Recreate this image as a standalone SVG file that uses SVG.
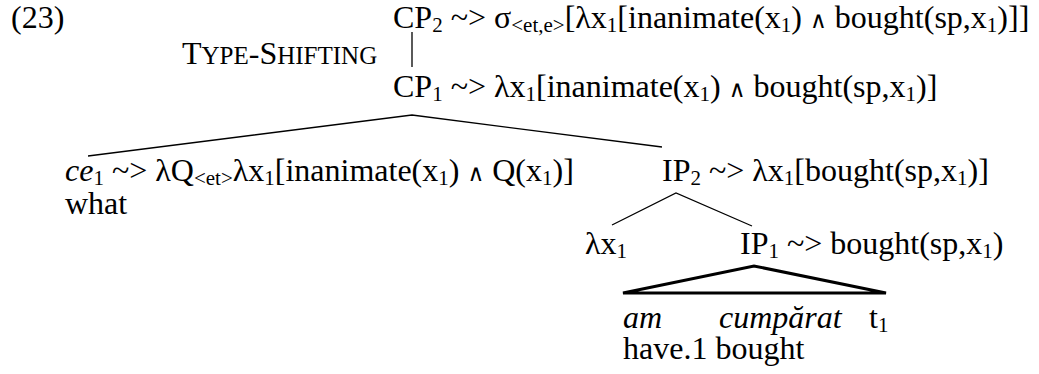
<svg xmlns="http://www.w3.org/2000/svg" width="1039" height="374" viewBox="0 0 1039 374">
<style>
text{font-family:"Liberation Serif","Times New Roman",serif;font-size:32px;fill:#000}
.s{font-size:21px}
.i{font-style:italic}
.sc{font-size:25px}
.w{font-family:"DejaVu Serif",serif;font-size:23px}
.ln{stroke:#000;stroke-width:1.3;fill:none}
.tri{stroke:#000;stroke-width:3;fill:none;stroke-linejoin:miter}
</style>
<rect width="1039" height="374" fill="#fff"/>
<g id="label-23"><text x="11" y="28">(23)</text></g>
<g id="cp2"><text x="393" y="28">CP<tspan class="s" dy="4">2</tspan><tspan dy="-4"> ~&gt; σ</tspan><tspan class="s" dy="4">&lt;et,e&gt;</tspan><tspan dy="-4">[λx</tspan><tspan class="s" dy="4">1</tspan><tspan dy="-4">[inanimate(x</tspan><tspan class="s" dy="4">1</tspan><tspan dy="-4">) </tspan><tspan class="w">∧</tspan><tspan> bought(sp,x</tspan><tspan class="s" dy="4">1</tspan><tspan dy="-4">)]]</tspan></text></g>
<g id="type-shifting"><text x="182" y="64" font-size="31">T<tspan class="sc">YPE</tspan>-S<tspan class="sc">HIFTING</tspan></text></g>
<g id="cp1"><text x="393" y="97">CP<tspan class="s" dy="4">1</tspan><tspan dy="-4"> ~&gt; λx</tspan><tspan class="s" dy="4">1</tspan><tspan dy="-4">[inanimate(x</tspan><tspan class="s" dy="4">1</tspan><tspan dy="-4">) </tspan><tspan class="w">∧</tspan><tspan> bought(sp,x</tspan><tspan class="s" dy="4">1</tspan><tspan dy="-4">)]</tspan></text></g>
<g id="ce1"><text x="65" y="181"><tspan class="i">ce</tspan><tspan class="s" dy="4">1</tspan><tspan dy="-4"> ~&gt; λQ</tspan><tspan class="s" dy="4">&lt;et&gt;</tspan><tspan dy="-4">λx</tspan><tspan class="s" dy="4">1</tspan><tspan dy="-4">[inanimate(x</tspan><tspan class="s" dy="4">1</tspan><tspan dy="-4">) </tspan><tspan class="w">∧</tspan><tspan> Q(x</tspan><tspan class="s" dy="4">1</tspan><tspan dy="-4">)]</tspan></text><text x="65" y="214">what</text></g>
<g id="ip2"><text x="662" y="181">IP<tspan class="s" dy="4">2</tspan><tspan dy="-4"> ~&gt; λx</tspan><tspan class="s" dy="4">1</tspan><tspan dy="-4">[bought(sp,x</tspan><tspan class="s" dy="4">1</tspan><tspan dy="-4">)]</tspan></text></g>
<g id="lambda-x1"><text x="585" y="254">λx<tspan class="s" dy="4">1</tspan></text></g>
<g id="ip1"><text x="740" y="254">IP<tspan class="s" dy="4">1</tspan><tspan dy="-4"> ~&gt; bought(sp,x</tspan><tspan class="s" dy="4">1</tspan><tspan dy="-4">)</tspan></text></g>
<g id="leaves"><text x="623" y="328" class="i">am</text><text x="719" y="328" class="i">cumpărat</text><text x="869" y="328">t<tspan class="s" dy="4">1</tspan></text><text x="623" y="359">have.1 bought</text></g>
<g id="connectors">
<line class="ln" x1="412" y1="32" x2="412" y2="67"/>
<polyline class="ln" points="88,156 412,115 662,147"/>
<polyline class="ln" points="612,225 676,193 752,226"/>
<polygon class="tri" points="623,293 754,266 886,293"/>
</g>
</svg>
